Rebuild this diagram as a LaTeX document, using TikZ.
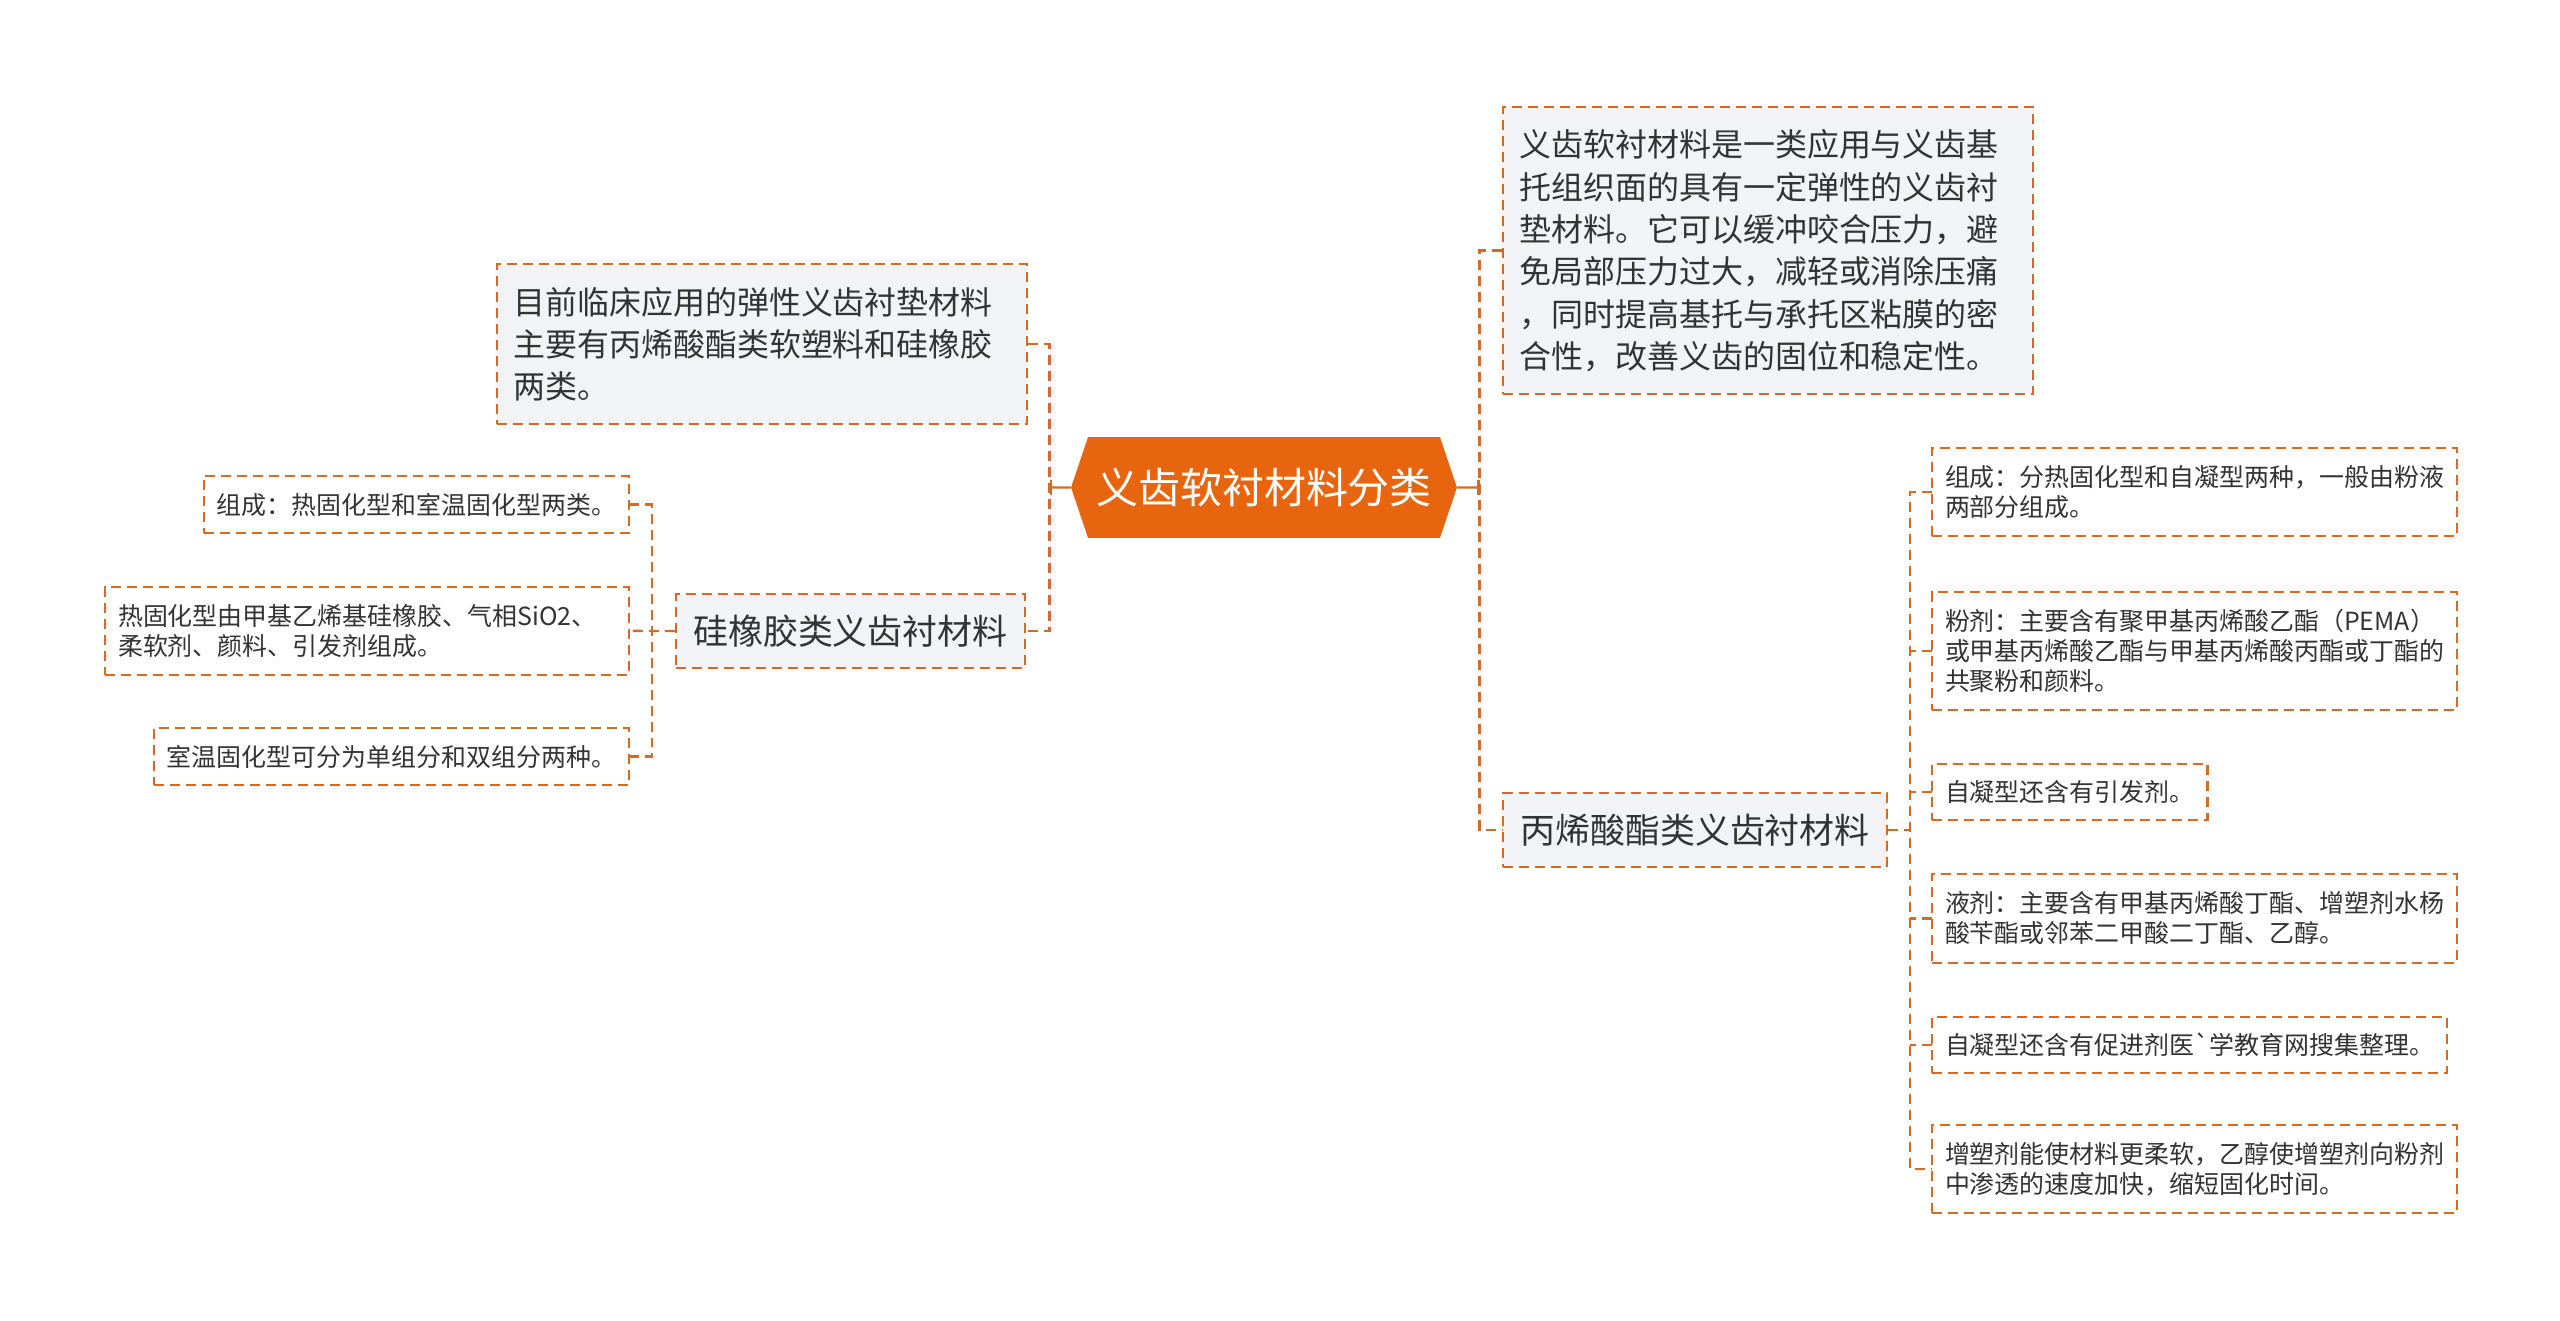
\documentclass[tikz,border=0pt]{standalone}
\usepackage{fontspec}
\setmainfont{Noto Sans CJK SC}
\usepackage{xcolor}
\usepackage{tikz}
\usetikzlibrary{arrows.meta,positioning,calc}

\definecolor{hubfill}{HTML}{E8650F}
\definecolor{dashline}{HTML}{D46A26}
\definecolor{boxgray}{HTML}{F1F3F6}
\definecolor{inktext}{HTML}{333333}

\begin{document}
\begin{tikzpicture}[
    x=0.02cm, y=-0.02cm,
    hub/.style={fill=white, minimum width=7.72cm, minimum height=2.02cm, inner sep=0pt, text=white,
        font=\fontsize{23.9pt}{28pt}\selectfont,
        path picture={\fill[hubfill] (path picture bounding box.west)
            -- ([xshift=0.34cm]path picture bounding box.north west)
            -- ([xshift=-0.34cm]path picture bounding box.north east)
            -- (path picture bounding box.east)
            -- ([xshift=-0.34cm]path picture bounding box.south east)
            -- ([xshift=0.34cm]path picture bounding box.south west) -- cycle;}},
    desc/.style={draw=dashline, dash pattern=on 0.2cm off 0.12cm, line width=1.4pt, fill=boxgray, text=inktext,
        align=left, text width=9.96cm, inner xsep=0.32cm, inner ysep=0pt, font=\fontsize{18.2pt}{24.1pt}\selectfont},
    topic/.style={draw=dashline, dash pattern=on 0.2cm off 0.12cm, line width=1.4pt, fill=boxgray, text=inktext,
        inner xsep=0.34cm, inner ysep=0pt, minimum height=1.48cm, font=\fontsize{19.9pt}{24pt}\selectfont},
    leaf/.style={draw=dashline, dash pattern=on 0.2cm off 0.12cm, line width=1.4pt, fill=white, text=inktext,
        align=left, inner xsep=0.26cm, inner ysep=0pt, outer sep=0pt, font=\fontsize{14.2pt}{17.1pt}\selectfont},
    link/.style={draw=dashline, dash pattern=on 0.2cm off 0.12cm, line width=1.4pt},
    trunk/.style={draw=dashline, line width=1.4pt, -{Bar[width=0.3cm]}}
]
\fill[white] (0,0) rectangle (2560,1321);
\useasboundingbox (0,0) rectangle (2560,1321);

% root
\node[hub] (hub) at (1264,487.5) {义齿软衬材料分类};

% left side
\node[desc, minimum height=3.2cm, anchor=north west] (intro) at (496,263) {目前临床应用的弹性义齿衬垫材料\\主要有丙烯酸酯类软塑料和硅橡胶\\两类。};
\node[topic, anchor=east] (silicone) at (1026,631) {硅橡胶类义齿衬材料};
\node[leaf, minimum height=1.14cm, anchor=north east] (sComp) at (629,476) {组成：热固化型和室温固化型两类。};
\node[leaf, minimum height=1.76cm, text width=9.96cm, below left=1.08cm and 0cm of sComp.south east] (sHeat) {热固化型由甲基乙烯基硅橡胶、气相SiO2、\\柔软剂、颜料、引发剂组成。};
\node[leaf, minimum height=1.14cm, below left=1.06cm and 0cm of sHeat.south east] (sRoom) {室温固化型可分为单组分和双组分两种。};

% right side
\node[desc, minimum height=5.74cm, anchor=north west] (defn) at (1502,106) {义齿软衬材料是一类应用与义齿基\\托组织面的具有一定弹性的义齿衬\\垫材料。它可以缓冲咬合压力，避\\免局部压力过大，减轻或消除压痛\\，同时提高基托与承托区粘膜的密\\合性，改善义齿的固位和稳定性。};
\node[topic, anchor=west] (acrylic) at (1502,830) {丙烯酸酯类义齿衬材料};
\node[leaf, minimum height=1.76cm, anchor=north west] (aComp) at (1932,448) {组成：分热固化型和自凝型两种，一般由粉液\\两部分组成。};
\node[leaf, minimum height=2.36cm, below right=1.12cm and 0cm of aComp.south west] (aPowder) {粉剂：主要含有聚甲基丙烯酸乙酯（PEMA）\\或甲基丙烯酸乙酯与甲基丙烯酸丙酯或丁酯的\\共聚粉和颜料。};
\node[leaf, minimum height=1.12cm, below right=1.08cm and 0cm of aPowder.south west] (aInit) {自凝型还含有引发剂。};
\node[leaf, minimum height=1.78cm, below right=1.08cm and 0cm of aInit.south west] (aLiquid) {液剂：主要含有甲基丙烯酸丁酯、增塑剂水杨\\酸苄酯或邻苯二甲酸二丁酯、乙醇。};
\node[leaf, minimum height=1.12cm, below right=1.08cm and 0cm of aLiquid.south west] (aAccel) {自凝型还含有促进剂医{\textasciigrave}学教育网搜集整理。};
\node[leaf, minimum height=1.76cm, below right=1.04cm and 0cm of aAccel.south west] (aPlast) {增塑剂能使材料更柔软，乙醇使增塑剂向粉剂\\中渗透的速度加快，缩短固化时间。};

% spines
\coordinate (hubL) at ($(hub.west)!0.5!(hub.west -| intro.east)$);
\coordinate (hubR) at ($(hub.east)!0.5!(hub.east -| defn.west)$);
\coordinate (silL) at ($(silicone.west)!0.5!(silicone.west -| sHeat.east)$);
\coordinate (acrR) at ($(acrylic.east)!0.5!(acrylic.east -| aComp.west)$);

\draw[trunk] (hub.west) -- (hubL);
\draw[trunk] (hub.east) -- (hubR);
\draw[link] (intro.east) -| (hubL) |- (silicone.east);
\draw[link] (defn.west) -| (hubR) |- (acrylic.west);
\draw[link] (silicone.west) -- (sHeat.east);
\draw[link] (sComp.east) -| (silL) |- (sRoom.east);
\draw[link] (acrylic.east) -- (acrR);
\draw[link] (aComp.west) -| (acrR) |- (aPlast.west);
\draw[link] (aPowder.west) -- (aPowder.west -| acrR);
\draw[link] (aInit.west) -- (aInit.west -| acrR);
\draw[link] (aLiquid.west) -- (aLiquid.west -| acrR);
\draw[link] (aAccel.west) -- (aAccel.west -| acrR);
\end{tikzpicture}
\end{document}
